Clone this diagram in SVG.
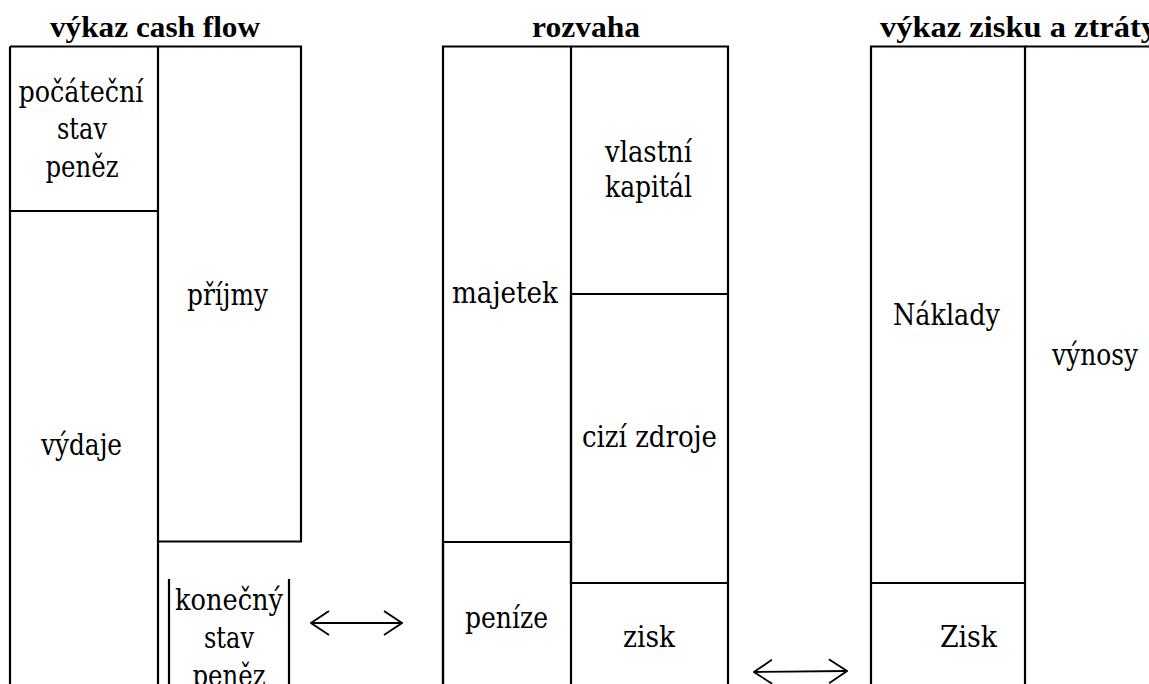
<svg xmlns="http://www.w3.org/2000/svg" width="1149" height="684" viewBox="0 0 1149 684">
<style>
.ln{stroke:#000;stroke-width:2.2;fill:none}
.t{font-family:'DejaVu Serif','Liberation Serif',serif;font-stretch:condensed;font-size:29px;fill:#000;text-anchor:middle}
.h{font-family:'Liberation Serif','DejaVu Serif',serif;font-size:30px;font-weight:bold;fill:#000;text-anchor:middle}
.ar{stroke:#000;stroke-width:1.8;fill:none}
</style>
<defs>
<marker id="ah" viewBox="0 0 20 26" refX="19" refY="13" markerWidth="20" markerHeight="26" markerUnits="userSpaceOnUse" orient="auto-start-reverse">
<path d="M1,1 L19,13 L1,25" fill="none" stroke="#000" stroke-width="1.8"/>
</marker>
</defs>
<rect width="1149" height="684" fill="#fff"/>
<g id="titles">
<text class="h" x="155" y="37" textLength="210" lengthAdjust="spacingAndGlyphs">výkaz cash flow</text>
<text class="h" x="586" y="37" textLength="108" lengthAdjust="spacingAndGlyphs">rozvaha</text>
<text class="h" x="880" y="37" style="text-anchor:start" textLength="277" lengthAdjust="spacingAndGlyphs">výkaz zisku a ztráty</text>
</g>
<g id="cf-pocatecni">
<path class="ln" d="M10,46.5 H158 M10,46.5 V211 H158"/>
<text class="t" x="81" y="102" textLength="125" lengthAdjust="spacingAndGlyphs">počáteční</text>
<text class="t" x="82" y="139" textLength="50" lengthAdjust="spacingAndGlyphs">stav</text>
<text class="t" x="82" y="177" textLength="73" lengthAdjust="spacingAndGlyphs">peněz</text>
</g>
<g id="cf-vydaje">
<path class="ln" d="M10,211 V684"/>
<text class="t" x="81.5" y="455" textLength="81" lengthAdjust="spacingAndGlyphs">výdaje</text>
</g>
<g id="cf-prijmy">
<path class="ln" d="M158,46.5 H301 V541.5 H158 M158,46.5 V684"/>
<text class="t" x="227.5" y="305" textLength="81" lengthAdjust="spacingAndGlyphs">příjmy</text>
</g>
<g id="cf-konecny">
<path class="ln" d="M169,579 V684 M289,579 V684"/>
<text class="t" x="229" y="610" textLength="108" lengthAdjust="spacingAndGlyphs">konečný</text>
<text class="t" x="229" y="648" textLength="50" lengthAdjust="spacingAndGlyphs">stav</text>
<text class="t" x="229" y="686" textLength="73" lengthAdjust="spacingAndGlyphs">peněz</text>
</g>
<g id="rv-majetek">
<path class="ln" d="M443,684 V46.5 H571 V542 H443"/>
<text class="t" x="505" y="303" textLength="106" lengthAdjust="spacingAndGlyphs">majetek</text>
</g>
<g id="rv-penize">
<path class="ln" d="M443,542 V684 M571,542 V684"/>
<text class="t" x="506.5" y="628" textLength="83" lengthAdjust="spacingAndGlyphs">peníze</text>
</g>
<g id="rv-vlastni">
<path class="ln" d="M571,46.5 H728 V294 H571"/>
<text class="t" x="648.5" y="162" textLength="87" lengthAdjust="spacingAndGlyphs">vlastní</text>
<text class="t" x="648.5" y="197" textLength="87" lengthAdjust="spacingAndGlyphs">kapitál</text>
</g>
<g id="rv-cizi">
<path class="ln" d="M571,294 V583 H728 V294"/>
<text class="t" x="649.5" y="447" textLength="135" lengthAdjust="spacingAndGlyphs">cizí zdroje</text>
</g>
<g id="rv-zisk">
<path class="ln" d="M728,583 V684"/>
<text class="t" x="649" y="647" textLength="52" lengthAdjust="spacingAndGlyphs">zisk</text>
</g>
<g id="vz-naklady">
<path class="ln" d="M871,684 V46.5 H1025 V684 M871,583 H1025"/>
<text class="t" x="946.5" y="325" textLength="107" lengthAdjust="spacingAndGlyphs">Náklady</text>
</g>
<g id="vz-zisk">
<text class="t" x="968.5" y="647" textLength="57" lengthAdjust="spacingAndGlyphs">Zisk</text>
</g>
<g id="vz-vynosy">
<path class="ln" d="M1025,46.5 H1149"/>
<text class="t" x="1095" y="365" textLength="86" lengthAdjust="spacingAndGlyphs">výnosy</text>
</g>
<g id="connectors">
<line class="ar" x1="311" y1="623" x2="402" y2="623" marker-start="url(#ah)" marker-end="url(#ah)"/>
<line class="ar" x1="754" y1="672" x2="847" y2="671" marker-start="url(#ah)" marker-end="url(#ah)"/>
</g>
</svg>
